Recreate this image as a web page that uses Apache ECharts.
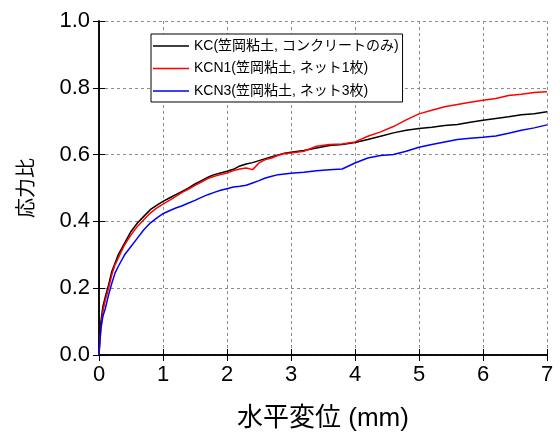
<!DOCTYPE html>
<html>
<head>
<meta charset="utf-8">
<script src="https://cdn.jsdelivr.net/npm/echarts@6/dist/echarts.min.js"></script>
<style>
  html, body { margin: 0; padding: 0; background: #fff; }
  #chart { width: 560px; height: 432px; }
</style>
</head>
<body>
<div id="chart"></div>
<script>
// Horizontal displacement (mm), shared by all three test series
const disp = [
  0, 0.01, 0.03, 0.06, 0.1, 0.15, 0.2, 0.25, 0.3,
  0.4, 0.5, 0.6, 0.7, 0.8, 0.9, 1.0, 1.1, 1.2, 1.3, 1.4, 1.5, 1.6, 1.7, 1.8, 1.9,
  2.0, 2.1, 2.2, 2.3, 2.4, 2.5, 2.6, 2.7, 2.8, 2.9, 3.0,
  3.2, 3.4, 3.6, 3.8, 4.0, 4.2, 4.4, 4.6, 4.8, 5.0, 5.2, 5.4, 5.6, 5.8, 6.0,
  6.2, 6.4, 6.6, 6.8, 7.0
];

// Stress ratio: concrete only
const stressKC = [
  0, 0.05, 0.10, 0.145, 0.175, 0.21, 0.25, 0.275, 0.30,
  0.335, 0.37, 0.395, 0.415, 0.435, 0.448, 0.46, 0.47, 0.48, 0.49, 0.50, 0.512, 0.522, 0.532, 0.54, 0.545,
  0.55, 0.556, 0.566, 0.572, 0.576, 0.582, 0.588, 0.594, 0.599, 0.604, 0.607,
  0.612, 0.62, 0.627, 0.63, 0.636, 0.645, 0.655, 0.665, 0.673, 0.678, 0.682, 0.687, 0.69, 0.697, 0.703,
  0.708, 0.713, 0.719, 0.722, 0.728
];

// Stress ratio: one net layer
const stressKCN1 = [
  0, 0.03, 0.08, 0.13, 0.165, 0.20, 0.24, 0.27, 0.29,
  0.33, 0.36, 0.385, 0.405, 0.425, 0.44, 0.452, 0.463, 0.475, 0.487, 0.497, 0.508, 0.518, 0.528, 0.535, 0.54,
  0.545, 0.552, 0.557, 0.56, 0.555, 0.575, 0.585, 0.59, 0.598, 0.603, 0.605,
  0.61, 0.625, 0.63, 0.632, 0.638, 0.655, 0.668, 0.684, 0.704, 0.722, 0.733, 0.743, 0.75, 0.757, 0.763,
  0.768, 0.777, 0.781, 0.786, 0.788
];

// Stress ratio: three net layers
const stressKCN3 = [
  0, 0.03, 0.08, 0.115, 0.14, 0.18, 0.215, 0.245, 0.265,
  0.30, 0.325, 0.35, 0.375, 0.395, 0.41, 0.423, 0.432, 0.44, 0.447, 0.455, 0.463, 0.472, 0.48, 0.487, 0.493,
  0.498, 0.503, 0.505, 0.508, 0.515, 0.522, 0.53, 0.535, 0.54, 0.542, 0.544,
  0.547, 0.552, 0.555, 0.557, 0.575, 0.59, 0.597, 0.60, 0.61, 0.622, 0.63, 0.638, 0.645, 0.649, 0.652,
  0.656, 0.664, 0.673, 0.68, 0.689
];

const seriesNames = [
  'KC(笠岡粘土, コンクリートのみ)',
  'KCN1(笠岡粘土, ネット1枚)',
  'KCN3(笠岡粘土, ネット3枚)'
];
const seriesColors = ['#000000', '#ff0000', '#0000ff'];
const seriesValues = [stressKC, stressKCN1, stressKCN3];

const FONT = "'Liberation Sans', Arial, 'Noto Sans CJK JP', sans-serif";

const chart = echarts.init(document.getElementById('chart'), null, { renderer: 'canvas' });

const frameLine = { show: true, lineStyle: { color: '#000', width: 1.5 } };
const inTick = { show: true, inside: true, length: 6, lineStyle: { color: '#000', width: 1 } };
const grayDash = { show: true, lineStyle: { color: '#8c8c8c', type: [3, 3], width: 1 } };

chart.setOption({
  animation: false,
  backgroundColor: '#fff',
  grid: {
    left: 99, right: 13, top: 21, bottom: 77,
    containLabel: false,
    outerBoundsMode: 'none'
  },
  legend: {
    orient: 'vertical',
    left: 151,
    top: 34,
    padding: [5, 4, 4, 2],
    itemGap: 8.5,
    itemWidth: 36,
    itemHeight: 14,
    // plain short line sample, no marker
    icon: 'path://M0,0H36V1.5H0Z',
    symbolKeepAspect: true,
    backgroundColor: '#fff',
    borderColor: '#000',
    borderWidth: 1,
    borderRadius: 0,
    textStyle: { fontFamily: FONT, fontSize: 14, color: '#000' },
    data: seriesNames
  },
  xAxis: [
    {
      type: 'value', min: 0, max: 7, interval: 1,
      name: '水平変位 (mm)', nameLocation: 'middle', nameGap: 51,
      nameTextStyle: { fontFamily: FONT, fontSize: 26, color: '#000' },
      axisLine: frameLine, axisTick: inTick,
      axisLabel: { fontFamily: FONT, fontSize: 22, color: '#000', margin: 9 },
      splitLine: grayDash
    },
    {
      type: 'value', position: 'top', min: 0, max: 7, interval: 1,
      axisLine: frameLine, axisTick: inTick,
      axisLabel: { show: false }, splitLine: { show: false }
    }
  ],
  yAxis: [
    {
      type: 'value', min: 0, max: 1, interval: 0.2,
      name: '応力比', nameLocation: 'middle', nameGap: 62, nameRotate: 90,
      nameTextStyle: { fontFamily: FONT, fontSize: 20, color: '#000' },
      axisLine: frameLine, axisTick: inTick,
      axisLabel: {
        fontFamily: FONT, fontSize: 22, color: '#000', margin: 9,
        formatter: v => v.toFixed(1)
      },
      splitLine: grayDash
    },
    {
      type: 'value', position: 'right', min: 0, max: 1, interval: 0.2,
      axisLine: frameLine, axisTick: inTick,
      axisLabel: { show: false }, splitLine: { show: false }
    }
  ],
  series: seriesNames.map((name, k) => ({
    name: name,
    type: 'line',
    xAxisIndex: 0,
    yAxisIndex: 0,
    symbol: 'none',
    showSymbol: false,
    color: seriesColors[k],
    lineStyle: { color: seriesColors[k], width: 1.5 },
    data: disp.map((x, i) => [x, seriesValues[k][i]])
  }))
});
</script>
</body>
</html>
